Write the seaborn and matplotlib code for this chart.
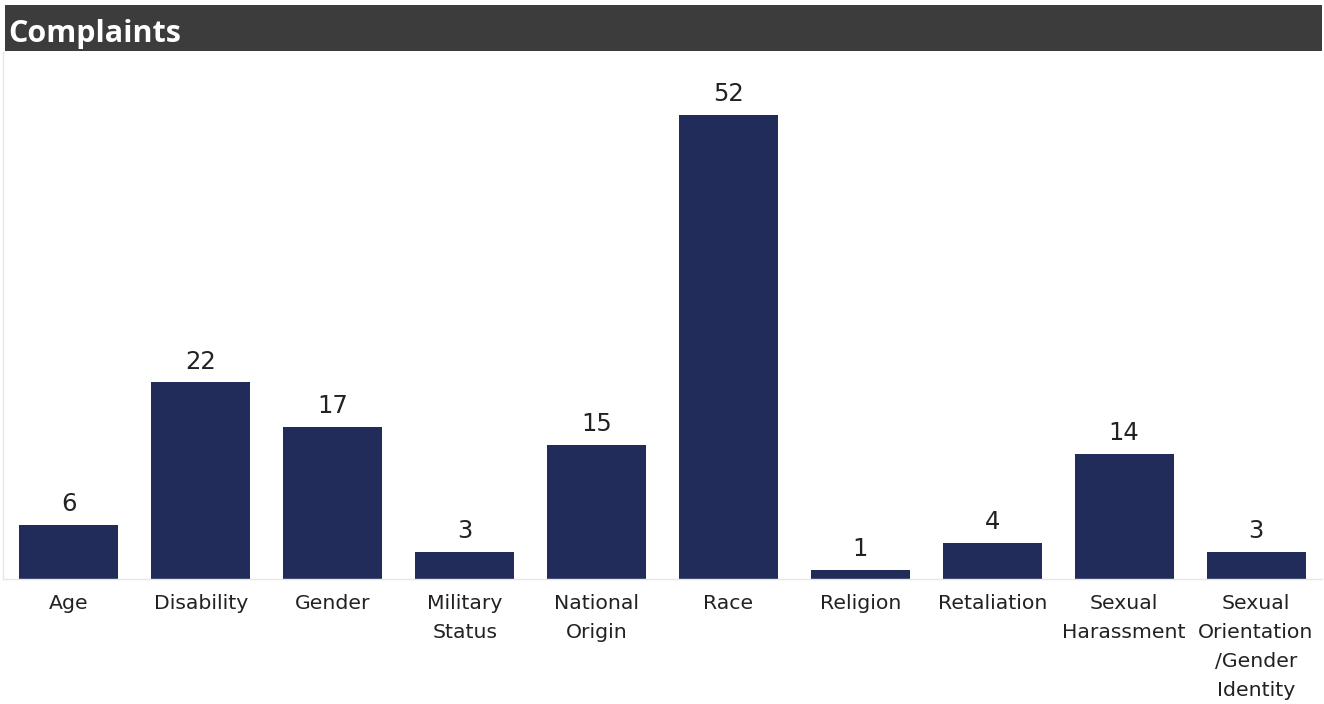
import matplotlib
matplotlib.use("Agg")
import matplotlib.pyplot as plt
import seaborn as sns
import numpy as np
import pandas as pd
from matplotlib.patches import Rectangle

categories = ["Age", "Disability", "Gender", "Military\nStatus", "National\nOrigin",
              "Race", "Religion", "Retaliation", "Sexual\nHarassment",
              "Sexual\nOrientation\n/Gender\nIdentity"]
values = [6, 22, 17, 3, 15, 52, 1, 4, 14, 3]
title = "Complaints"

sns.set_theme(style="white")
plt.rcParams['font.family'] = ['DejaVu Sans']

fig = plt.figure(figsize=(13.24, 7.04), dpi=100)
W, H = 1324, 704
ax = fig.add_axes([3 / W, (H - 579) / H, (1322 - 3) / W, (579 - 52) / H])

df = pd.DataFrame({"cat": categories, "val": values})
sns.barplot(data=df, x="cat", y="val", color="#212c5a", saturation=1, width=0.75,
            linewidth=0, edgecolor="none", ax=ax)

ax.set_ylim(0, 59)
ax.set_xlim(-0.5, len(categories) - 0.5)
ax.set_xlabel("")
ax.set_ylabel("")
ax.set_yticks([])

for i, v in enumerate(values):
    ax.text(i, v + 1.0, str(v), ha="center", va="bottom", fontsize=17.5, color="#222222")

ax.tick_params(axis="x", which="major", length=0, pad=11, labelsize=14.7, labelcolor="#222222")
ax.set_xticks(np.arange(len(categories)))
ax.set_xticklabels(categories, linespacing=1.65, va="top")
ax.set_xticks(np.arange(-0.5, len(categories), 1), minor=True)
ax.tick_params(axis="x", which="minor", length=12, width=1, color="#e6e6e6")

for s in ["top", "right"]:
    ax.spines[s].set_visible(False)
ax.spines["bottom"].set_color("#e6e6e6")
ax.spines["left"].set_color("#e6e6e6")
ax.spines["bottom"].set_linewidth(1)
ax.spines["left"].set_linewidth(1)

fig.patches.append(Rectangle((5 / W, (H - 51) / H), (1322 - 5) / W, 46 / H,
                             transform=fig.transFigure, facecolor="#3c3c3c",
                             edgecolor="none", zorder=0))
fig.text(8 / W, (H - 34) / H, title, ha="left", va="center", fontsize=22,
         fontweight="bold", color="white", family=["Open Sans", "DejaVu Sans"])

fig.savefig("out.png", dpi=100)
